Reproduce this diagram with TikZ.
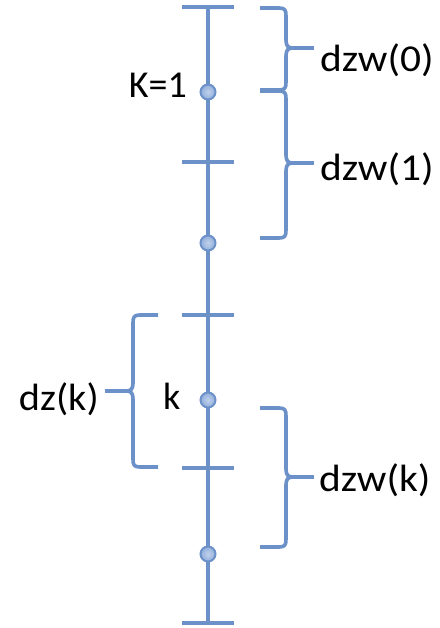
\documentclass[tikz,border=0pt]{standalone}
\usepackage{fontspec}
\setmainfont{Carlito}
\definecolor{lineblue}{RGB}{108,145,200}
\definecolor{dotfill}{RGB}{150,178,222}
\begin{document}
\begin{tikzpicture}[x=1pt,y=-1pt,
  axis/.style={draw=lineblue,line width=4pt},
  tick/.style={draw=lineblue,line width=4pt},
  bracestyle/.style={draw=lineblue,line width=3.6pt,line cap=butt,line join=round},
  dot/.style={circle,minimum size=15pt,inner sep=0pt,draw=lineblue,line width=2pt,inner color=dotfill!60!white,outer color=dotfill!90!lineblue},
  lbl/.style={inner sep=0pt,font=\fontsize{38}{40}\selectfont},
  wide/.style={xscale=1.09}]
\useasboundingbox (0,0) rectangle (439,628);
% axis
\coordinate (top) at (208,7);
\coordinate (bot) at (208,623);
\draw[axis] (top) -- (bot);
% ticks
\foreach \y/\n in {7/t0,162/t1,315/t2,468/t3,623/t4}{
  \coordinate (\n l) at (182,\y); \coordinate (\n r) at (234,\y);
  \draw[tick] (\n l) -- (\n r);
}
% dots
\node[dot] (d1) at (208,92) {};
\node[dot] (d2) at (208,243) {};
\node[dot] (d3) at (208,400) {};
\node[dot] (d4) at (208,554) {};
% right braces
\foreach \T/\B/\M in {8/90/48, 91/238/163, 408/547/477}{
  \draw[bracestyle] (260,\T) -- (279,\T) .. controls (285,\T) and (286,\T+2) .. (286,\T+8)
     -- (286,\M-8) .. controls (286,\M-2) and (288,\M) .. (293,\M)
     .. controls (288,\M) and (286,\M+2) .. (286,\M+8)
     -- (286,\B-8) .. controls (286,\B-2) and (285,\B) .. (279,\B) -- (260,\B);
  \draw[bracestyle] (292,\M) -- (314,\M);
}
% left brace
\draw[bracestyle] (158,315) -- (140,315) .. controls (134,315) and (133,317) .. (133,323)
   -- (133,383) .. controls (133,389) and (131,391) .. (126,391)
   .. controls (131,391) and (133,393) .. (133,399)
   -- (133,459) .. controls (133,465) and (134,467) .. (140,467) -- (158,467);
\draw[bracestyle] (127,391) -- (105,391);
% labels
\node[lbl,wide,anchor=base west] (l0) at (320,72) {dzw(0)};
\node[lbl,wide,anchor=base west] (l1) at (320,181) {dzw(1)};
\node[lbl,wide,anchor=base west] (lk) at (319,491) {dzw(k)};
\node[lbl,xscale=1.06,anchor=base east] (lz) at (99,410) {dz(k)};
\node[lbl,anchor=base east] (K1) at (187,98) {K=1};
\node[lbl,anchor=base west] (k) at (163,409) {k};
\end{tikzpicture}
\end{document}
